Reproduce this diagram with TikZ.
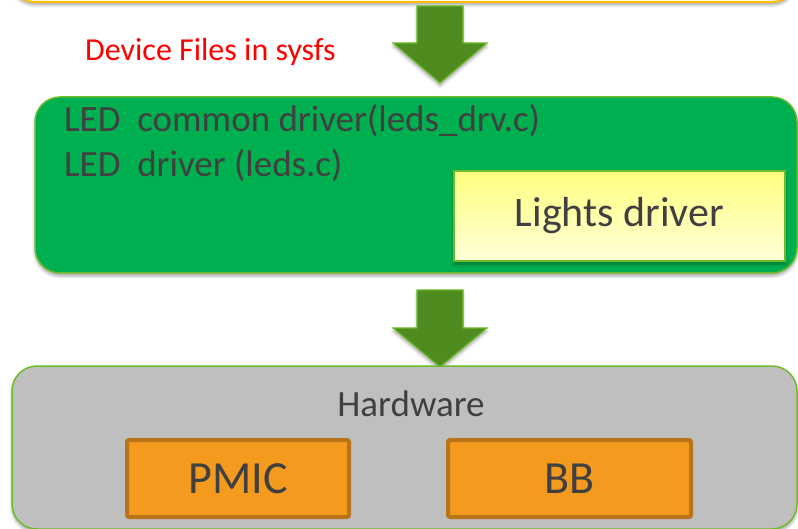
\documentclass[tikz,border=0pt]{standalone}
\usepackage{fontspec}
\setmainfont{Carlito}
\usetikzlibrary{shadows.blur}
\definecolor{txt}{HTML}{404040}
\definecolor{topline}{HTML}{FFC000}
\definecolor{drvfill}{HTML}{00B050}
\definecolor{lgreen}{HTML}{6DBB2A}
\definecolor{arrfill}{HTML}{4F8B1F}
\definecolor{hwfill}{HTML}{BFBFBF}
\definecolor{chipfill}{HTML}{F39A1F}
\definecolor{chipline}{HTML}{B97318}
\tikzset{
  shd/.style={blur shadow={shadow xshift=0pt, shadow yshift=-3pt, shadow blur radius=3pt, shadow opacity=35}},
  layerbox/.style={rounded corners=25pt, line width=1.5pt, shd},
  blockarrow/.style={fill=arrfill, draw=lgreen, line width=1.2pt, line join=miter, shd},
  chip/.style={fill=chipfill, draw=chipline, line width=4pt, rounded corners=2pt, inner sep=0pt, text=txt, font=\fontsize{46}{50}\selectfont},
  lightsbox/.style={top color=yellow!50, bottom color=yellow!15, draw=lgreen, line width=1.5pt, inner sep=0pt, text=txt, font=\fontsize{42}{46}\selectfont, shd},
  bodytext/.style={text=txt, font=\fontsize{37}{41}\selectfont, inner sep=0pt, anchor=base west},
}
\begin{document}
\begin{tikzpicture}[x=1pt,y=-1pt]
\useasboundingbox (0,0) rectangle (798,529);
\clip (0,0) rectangle (798,529);
% top (cut) box
\draw[layerbox, draw=topline, fill=white, line width=2pt] (10,-80) rectangle (797,2);
% arrow 1
\draw[blockarrow] (417,6) -- (463,6) -- (463,43) -- (487,43) -- (440,83) -- (393,43) -- (417,43) -- cycle;
\node[text=red, font=\fontsize{32}{36}\selectfont, inner sep=0pt, anchor=base west] (sysfs) at (85,61) {Device Files in sysfs};
% driver layer
\draw[layerbox, fill=drvfill, draw=lgreen] (35,97) rectangle (797,273);
\node[bodytext] (common) at (64,132) {LED\ \ common driver(leds\_drv.c)};
\node[bodytext] (leds) at (64,177) {LED\ \ driver (leds.c)};
\node[lightsbox, minimum width=331pt, minimum height=90pt] (lights) at (619.5,216) {Lights driver};
% arrow 2
\draw[blockarrow] (417,290) -- (463,290) -- (463,328) -- (487,328) -- (440,367) -- (393,328) -- (417,328) -- cycle;
% hardware layer
\draw[layerbox, fill=hwfill, draw=lgreen] (12,366) rectangle (797,529);
\node[bodytext, anchor=base] (hw) at (411,416) {Hardware};
\node[chip, minimum width=222pt, minimum height=77pt] (pmic) at (238,478.5) {PMIC};
\node[chip, minimum width=243pt, minimum height=77pt] (bb) at (569.5,478.5) {BB};
\end{tikzpicture}
\end{document}
